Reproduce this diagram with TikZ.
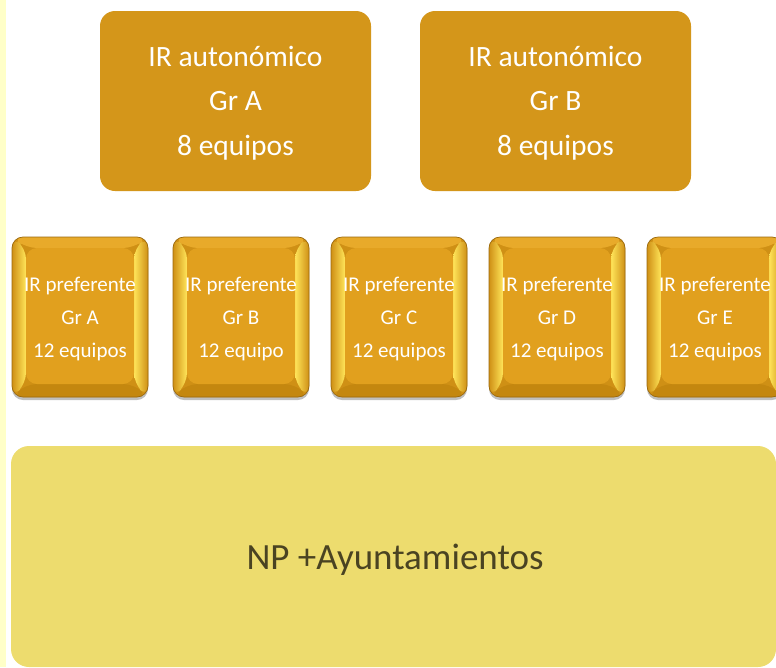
\documentclass[tikz,border=0pt]{standalone}
\usepackage{fontspec}
\setmainfont{Carlito}
\usetikzlibrary{calc,shadows}
\definecolor{topfill}{HTML}{D4961A}
\definecolor{botfill}{HTML}{EDDC6E}
\definecolor{strip}{HTML}{FFFFC8}
\definecolor{rim}{HTML}{CF9015}
\definecolor{rimdark}{HTML}{9A6A10}
\definecolor{body}{HTML}{E1A01E}
\definecolor{toplt}{HTML}{E8AA2A}
\definecolor{botdk}{HTML}{C4870F}
\definecolor{glow}{HTML}{FFE55A}
\definecolor{bottext}{HTML}{4A4322}
\tikzset{
  topbox/.style={rounded corners=15pt, fill=topfill, minimum width=271pt, minimum height=180pt,
    text=white, align=center, font=\fontsize{29.5}{44.5}\selectfont, inner sep=0pt},
  prefbox/.style={rounded corners=11pt, fill=rim, draw=rimdark, line width=0.7pt,
    minimum width=136pt, minimum height=160pt, inner sep=0pt,
    text=white, align=center, font=\fontsize{21}{33}\selectfont,
    drop shadow={shadow xshift=0pt, shadow yshift=-3pt, opacity=0.25, fill=black},
    path picture={
      \coordinate (sw) at (path picture bounding box.south west);
      \coordinate (ne) at (path picture bounding box.north east);
      \coordinate (isw) at ($(sw)+(14pt,13pt)$);
      \coordinate (ine) at ($(ne)+(-14pt,-11pt)$);
      \fill[toplt] (sw|-ne) -- (ne) -- (ine) -- (isw|-ine) -- cycle;
      \fill[botdk] (sw) -- (ne|-sw) -- (ine|-isw) -- (isw) -- cycle;
      \shade[left color=rim, right color=glow] (sw) -- (sw|-ne) -- (isw|-ine) -- (isw) -- cycle;
      \shade[left color=glow, right color=rim] (ne|-sw) -- (ne) -- (ine) -- (ine|-isw) -- cycle;
      \fill[body] (isw) rectangle (ine);
    }},
  npbox/.style={rounded corners=18pt, fill=botfill, minimum width=765pt, minimum height=221pt,
    inner sep=0pt},
  nptext/.style={text=bottext, font=\fontsize{37}{42}\selectfont, inner sep=0pt}
}
\begin{document}
\begin{tikzpicture}[x=1pt,y=-1pt]
\useasboundingbox (0,0) rectangle (776,667);
\clip (0,0) rectangle (776,667);
\fill[white] (0,0) rectangle (776,667);
\fill[strip] (0,0) rectangle (6,667);
\node[topbox] (autA) at (235.5,101) {};
\node[topbox] (autB) at (555.5,101) {};
\node[topbox, fill=none] (autAt) at (235.5,103) {IR autonómico\\Gr A\\8 equipos};
\node[topbox, fill=none] (autBt) at (555.5,103) {IR autonómico\\Gr B\\8 equipos};
\node[prefbox] (prefA) at (80,317) {};
\node[prefbox] (prefB) at (241,317) {};
\node[prefbox] (prefC) at (399,317) {};
\node[prefbox] (prefD) at (557,317) {};
\node[prefbox] (prefE) at (715,317) {};
\node[text=white, align=center, font=\fontsize{21}{33}\selectfont] (prefAt) at (80,319) {IR preferente\\Gr A\\12 equipos};
\node[text=white, align=center, font=\fontsize{21}{33}\selectfont] (prefBt) at (241,319) {IR preferente\\Gr B\\12 equipo};
\node[text=white, align=center, font=\fontsize{21}{33}\selectfont] (prefCt) at (399,319) {IR preferente\\Gr C\\12 equipos};
\node[text=white, align=center, font=\fontsize{21}{33}\selectfont] (prefDt) at (557,319) {IR preferente\\Gr D\\12 equipos};
\node[text=white, align=center, font=\fontsize{21}{33}\selectfont] (prefEt) at (715,319) {IR preferente\\Gr E\\12 equipos};
\node[npbox] (np) at (393.5,556.5) {};
\node[nptext] (npt) at (395,560) {NP +Ayuntamientos};
\end{tikzpicture}
\end{document}
